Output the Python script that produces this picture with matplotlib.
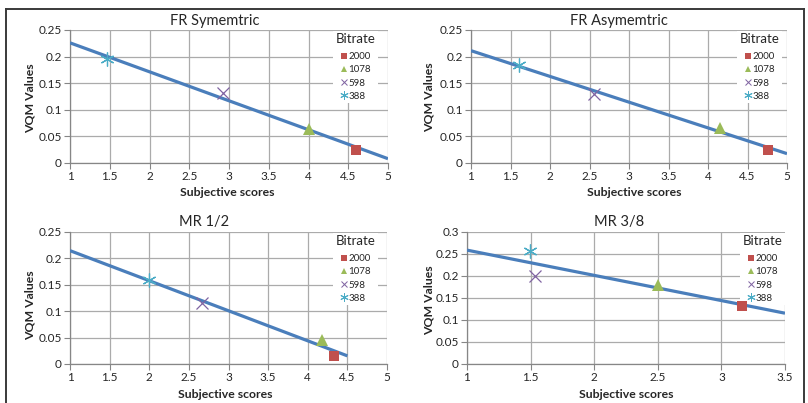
import numpy as np
import matplotlib
matplotlib.use("Agg")
import matplotlib.pyplot as plt
from matplotlib.lines import Line2D

plt.rcParams['font.family'] = ['Lato', 'DejaVu Sans']

W, H = 808, 403

# series order in every chart: 2000, 1078, 598, 388
bitrates = ['2000', '1078', '598', '388']

fr_sym_x = [4.60, 4.00, 2.92, 1.47]
fr_sym_y = [0.025, 0.063, 0.131, 0.195]

fr_asym_x = [4.755, 4.156, 2.561, 1.612]
fr_asym_y = [0.025, 0.066, 0.130, 0.184]

mr12_x = [4.33, 4.185, 2.668, 2.00]
mr12_y = [0.0145, 0.046, 0.1155, 0.160]

mr38_x = [3.164, 2.50, 1.533, 1.498]
mr38_y = [0.131, 0.180, 0.199, 0.256]

titles = ['FR Symemtric', 'FR Asymemtric', 'MR 1/2', 'MR 3/8']
trend_span = [(1, 5), (1, 5), (1, 4.5), (1, 3.5)]
x_limits = [(1, 5), (1, 5), (1, 5), (1, 3.5)]
y_limits = [(0, 0.25), (0, 0.25), (0, 0.25), (0, 0.3)]
x_ticks_5 = [1, 1.5, 2, 2.5, 3, 3.5, 4, 4.5, 5]
x_labels_5 = ['1', '1.5', '2', '2.5', '3', '3.5', '4', '4.5', '5']
x_ticks_35 = [1, 1.5, 2, 2.5, 3, 3.5]
x_labels_35 = ['1', '1.5', '2', '2.5', '3', '3.5']
y_ticks_25 = [0, 0.05, 0.1, 0.15, 0.2, 0.25]
y_labels_25 = ['0', '0.05', '0.1', '0.15', '0.2', '0.25']
y_ticks_30 = [0, 0.05, 0.1, 0.15, 0.2, 0.25, 0.3]
y_labels_30 = ['0', '0.05', '0.1', '0.15', '0.2', '0.25', '0.3']

# marker look per bitrate (Excel 2007 palette)
styles = [
    dict(marker='s', color='#C0504D', ms=7.5, mew=0),
    dict(marker='^', color='#9BBB59', ms=8, mew=0),
    dict(marker='x', color='#8064A2', ms=8, mew=0.9),
    dict(marker=(6, 2, 0), color='#4BACC6', ms=10, mew=0.9),
]

# layout in pixels: plot box (left, right, top, bottom), title, labels, legend corner
boxes = [(70, 388, 30, 163), (471, 787, 30, 163), (70, 387, 232, 364), (467, 785, 232, 364)]
title_pos = [(215, 21), (619, 21), (204, 222), (619, 222)]
xlabel_pos = [(227, 192), (634, 192), (225, 395), (626, 395)]
ylabel_pos = [(30, 98), (429, 97), (30, 305), (429, 300)]
legend_pos = [(378, 31), (782, 31), (378, 233), (785, 233)]

data = [(fr_sym_x, fr_sym_y), (fr_asym_x, fr_asym_y), (mr12_x, mr12_y), (mr38_x, mr38_y)]

fig = plt.figure(figsize=(W / 100, H / 100), dpi=100)

for i in range(4):
    xs, ys = data[i]
    x0, x1, yt, yb = boxes[i]
    ax = fig.add_axes([x0 / W, 1 - yb / H, (x1 - x0) / W, (yb - yt) / H])

    # linear trendline, as Excel computes it
    slope, icpt = np.polyfit(xs, ys, 1)
    tx = np.array(trend_span[i], dtype=float)
    ax.plot(tx, slope * tx + icpt, color='#4A7EBB', lw=2.3, solid_capstyle='butt', zorder=3)

    handles = []
    for j in range(4):
        st = styles[j]
        ax.plot(xs[j], ys[j], linestyle='none', marker=st['marker'], color=st['color'],
                ms=st['ms'], mew=st['mew'], zorder=4)
        handles.append(Line2D([], [], linestyle='none', marker=st['marker'], color=st['color'],
                              ms=st['ms'] * 0.6, mew=st['mew'] * 0.8))

    ax.set_xlim(*x_limits[i])
    ax.set_ylim(*y_limits[i])
    if x_limits[i][1] == 5:
        ax.set_xticks(x_ticks_5, x_labels_5)
    else:
        ax.set_xticks(x_ticks_35, x_labels_35)
    if y_limits[i][1] == 0.25:
        ax.set_yticks(y_ticks_25, y_labels_25)
    else:
        ax.set_yticks(y_ticks_30, y_labels_30)

    ax.grid(True, color='#ABABAB', lw=0.9, zorder=0)
    ax.set_axisbelow(True)
    for s in ['top', 'right']:
        ax.spines[s].set_visible(False)
    for s in ['left', 'bottom']:
        ax.spines[s].set_color('#868686')
        ax.spines[s].set_linewidth(0.9)
    ax.tick_params(labelsize=8.5, length=4, width=0.8, color='#868686',
                   labelcolor='#262626', pad=2)
    for lab in ax.get_xticklabels() + ax.get_yticklabels():
        lab.set_clip_on(False)

    leg = ax.legend(handles, bitrates, title='Bitrate', loc='upper right',
                    bbox_to_anchor=(legend_pos[i][0] / W, 1 - legend_pos[i][1] / H),
                    bbox_transform=fig.transFigure, fontsize=7, title_fontsize=9.5,
                    frameon=True, facecolor='white', edgecolor='none', framealpha=1,
                    fancybox=False, handlelength=0.7, handletextpad=0.1,
                    labelspacing=0.42, borderpad=0.25, borderaxespad=0)
    leg.get_title().set_color('#262626')
    leg._legend_box.sep = 5
    for t in leg.get_texts():
        t.set_color('#262626')
    # keep the legend box under the trendline and points
    leg.set_zorder(2.5)

    fig.text(title_pos[i][0] / W, 1 - title_pos[i][1] / H, titles[i], ha='center',
             va='center', fontsize=10.5, color='#262626')
    fig.text(xlabel_pos[i][0] / W, 1 - xlabel_pos[i][1] / H, 'Subjective scores', ha='center',
             va='center', fontsize=8.8, fontweight='bold', color='#262626')
    fig.text(ylabel_pos[i][0] / W, 1 - ylabel_pos[i][1] / H, 'VQM Values', ha='center',
             va='center', fontsize=8.8, fontweight='bold', rotation=90, color='#262626')

# outer frame around the four charts
frame = fig.add_axes([6 / W, -0.05, (804 - 6) / W, 1 - 9 / H + 0.05])
frame.set_xticks([])
frame.set_yticks([])
frame.patch.set_alpha(0)
for s in frame.spines.values():
    s.set_color('#3A3A3A')
    s.set_linewidth(1.4)
frame.set_zorder(-1)

fig.savefig('out.png', dpi=100)
